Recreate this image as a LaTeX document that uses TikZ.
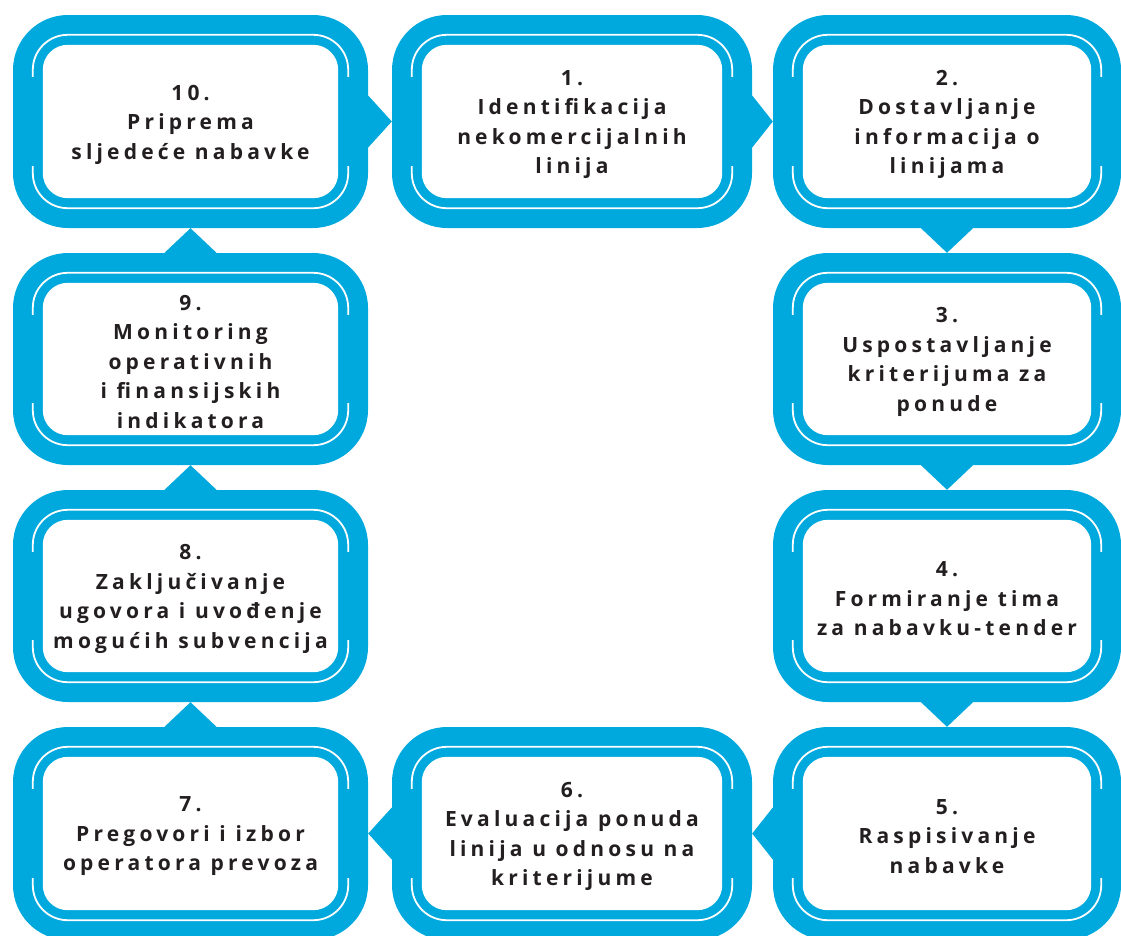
\documentclass[tikz,border=0pt]{standalone}
\usepackage{fontspec}
\setmainfont{Open Sans}[LetterSpace=20]
\usetikzlibrary{calc}
\definecolor{flowblue}{RGB}{0,169,221}
\definecolor{ink}{RGB}{35,31,32}
\tikzset{
  stage/.style={fill=flowblue, draw=none, rounded corners=55pt, inner sep=0pt},
  stagetext/.style={font=\bfseries\fontsize{21}{29.5}\selectfont, text=ink, align=center},
  hairline/.style={draw=white, line width=1.8pt, rounded corners=35pt},
  linkarrow/.style={fill=flowblue, draw=none},
}
% one process step: outer band, white hairline (top and bottom runs), white field, text
\newcommand\stagebox[6]{%
  \node[stage, minimum width=#4, minimum height=#5] (#1) at (#2,#3) {};
  \path[hairline] ($(#1.north west)+(20,-62)$) -- ($(#1.north west)+(20,-20)$)
     -- ($(#1.north east)+(-20,-20)$) -- ($(#1.north east)+(-20,-62)$);
  \path[hairline] ($(#1.south west)+(20,62)$) -- ($(#1.south west)+(20,20)$)
     -- ($(#1.south east)+(-20,20)$) -- ($(#1.south east)+(-20,62)$);
  \fill[white, rounded corners=25pt] ($(#1.north west)+(30,-30)$) rectangle ($(#1.south east)+(-30,30)$);
  \node[stagetext] (#1t) at ($(#1)+(0,-3)$) {#6};
}
% triangular pointers between neighbouring steps
\newcommand\pointh[2]{\fill[linkarrow] ($(#1.east)+(0,26)$) -- (#2.west) -- ($(#1.east)+(0,-26)$) -- cycle;}
\newcommand\pointl[2]{\fill[linkarrow] ($(#1.west)+(0,26)$) -- (#2.east) -- ($(#1.west)+(0,-26)$) -- cycle;}
\newcommand\pointd[2]{\fill[linkarrow] ($(#1.south)+(-26,0)$) -- (#2.north) -- ($(#1.south)+(26,0)$) -- cycle;}
\newcommand\pointu[2]{\fill[linkarrow] ($(#1.north)+(-26,0)$) -- (#2.south) -- ($(#1.north)+(26,0)$) -- cycle;}
\begin{document}
\begin{tikzpicture}[x=1pt,y=1pt]
\useasboundingbox (0,0) rectangle (1121,-935);
\clip (0,0) rectangle (1121,-935);

\stagebox{b10}{190.5}{-121.5}{355}{213}{10.\\Priprema\\sljedeće nabavke}
\stagebox{b1}{572}{-121.5}{360}{213}{1.\\Identifikacija\\nekomercijalnih\\linija}
\stagebox{b2}{947}{-121.5}{348}{213}{2.\\Dostavljanje\\informacija o\\linijama}

\stagebox{b9}{190.5}{-359}{355}{212}{9.\\Monitoring\\operativnih\\i finansijskih\\indikatora}
\stagebox{b3}{947}{-359}{348}{212}{3.\\Uspostavljanje\\kriterijuma za\\ponude}

\stagebox{b8}{190.5}{-596}{355}{212}{8.\\Zaključivanje\\ugovora i uvođenje\\mogućih subvencija}
\stagebox{b4}{947}{-596}{348}{212}{4.\\Formiranje tima\\za nabavku-tender}

\stagebox{b7}{190.5}{-833.5}{355}{213}{7.\\Pregovori i izbor\\operatora prevoza}
\stagebox{b6}{572}{-833.5}{360}{213}{6.\\Evaluacija ponuda\\linija u odnosu na\\kriterijume}
\stagebox{b5}{947}{-833.5}{348}{213}{5.\\Raspisivanje\\nabavke}

\pointh{b10}{b1}
\pointh{b1}{b2}
\pointd{b2}{b3}
\pointd{b3}{b4}
\pointd{b4}{b5}
\pointl{b5}{b6}
\pointl{b6}{b7}
\pointu{b7}{b8}
\pointu{b8}{b9}
\pointu{b9}{b10}
\end{tikzpicture}
\end{document}
